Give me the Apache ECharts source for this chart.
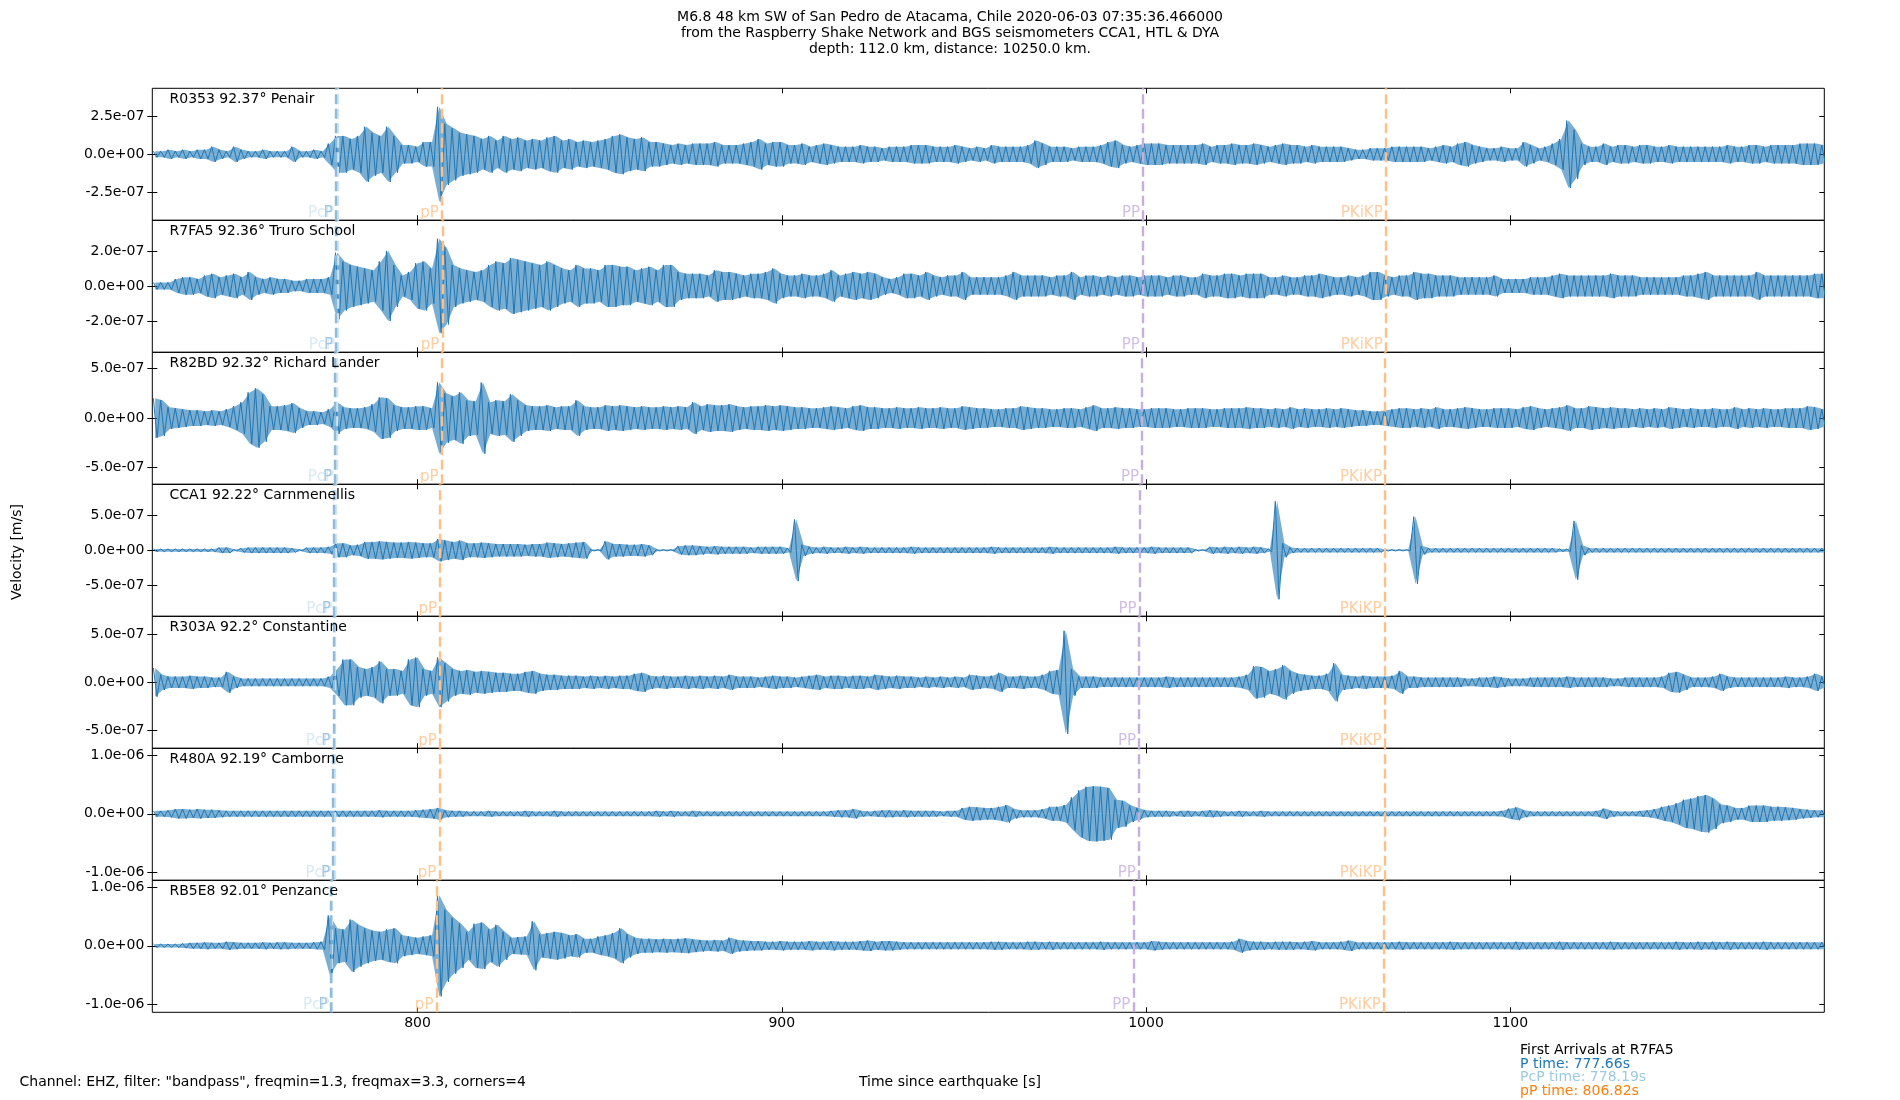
<!DOCTYPE html>
<html>
<head>
<meta charset="utf-8">
<title>M6.8 San Pedro de Atacama - Raspberry Shake / BGS</title>
<script src="https://cdn.jsdelivr.net/npm/echarts@6/dist/echarts.min.js"></script>
<style>
	html, body { margin: 0; padding: 0; background: #fff; }
	#seismo { width: 1900px; height: 1100px; }
</style>
</head>
<body>
<div id="seismo"></div>
<script>
'use strict';

/*--- data ---*/
var stationCodes = ['R0353', 'R7FA5', 'R82BD', 'CCA1', 'R303A', 'R480A', 'RB5E8'];
var stationDist = [92.37, 92.36, 92.32, 92.22, 92.2, 92.19, 92.01];
var stationNames = ['Penair', 'Truro School', 'Richard Lander', 'Carnmenellis', 'Constantine', 'Camborne', 'Penzance'];

// arrival times [s] per station
var pTimes = [777.5, 777.66, 777.4, 777.0, 776.9, 776.8, 776.1];
var pcpTimes = [778.0, 778.19, 777.9, 777.5, 777.4, 777.3, 776.6];
var ppTimes = [806.7, 806.82, 806.6, 806.2, 806.1, 806.0, 805.2];   // pP
var bigPPTimes = [999.2, 999.1, 998.9, 998.2, 998.1, 998.0, 996.5]; // PP
var pkikpTimes = [1065.8, 1065.8, 1065.6, 1065.5, 1065.5, 1065.5, 1065.3];

// waveform envelope: peak amplitude per 2 s bin (units of 1e-8 m/s), bins from 727 s
var binStart = 727;
var binWidth = 2;
var ampUnit = 1e-8;

var ampR0353 = [
	2,2,3,2,3,2,3,3,5,3, 2,5,3,2,2,3,2,2,2,5, 2,2,3,2,7,12,12,10,12,18,
	14,12,18,12,6,6,5,8,8,31, 20,17,14,13,12,10,12,9,12,10, 11,9,10,9,11,12,9,10,8,9,
	8,9,10,12,13,11,10,11,8,8, 7,6,7,6,7,7,7,8,6,6, 6,7,8,10,7,8,8,6,6,7,
	5,6,7,6,5,5,5,6,5,5, 4,5,5,5,6,6,6,5,5,5, 6,5,4,5,4,6,5,5,5,5,
	6,9,7,5,5,5,4,5,5,5, 6,8,9,6,5,6,7,7,7,6, 6,6,6,6,7,5,6,6,7,6,
	6,7,6,5,6,7,6,6,5,6, 5,5,5,5,4,3,3,4,4,4, 5,5,5,5,5,4,5,6,5,7,
	8,6,5,4,4,5,4,4,8,6, 4,5,7,10,22,16,7,5,5,7, 5,6,6,5,6,6,5,5,6,5,
	5,5,5,5,5,5,6,5,5,6, 6,5,6,6,6,6,7,7,7,6
];
var ampR7FA5 = [
	2,2,2,4,5,5,4,6,7,5, 6,7,5,8,5,4,5,4,4,3, 3,4,4,4,5,19,14,12,11,10,
	9,14,20,12,6,8,13,14,10,27, 22,12,10,9,8,9,12,14,13,16, 15,14,13,12,14,12,10,9,12,10,
	10,9,12,12,11,11,9,10,11,9, 12,12,8,7,7,7,
	6,9,8,8,7,6,7,7,8,10, 7,6,6,7,6,6,7,9,6,7, 8,7,8,7,5,4,5,7,7,6,
	8,6,5,6,6,8,5,5,5,5, 5,6,8,6,6,6,6,5,6,6, 8,5,6,6,5,6,5,6,6,5,
	6,6,6,5,6,6,5,5,7,6, 6,7,7,6,7,7,7,
	5,5,6,5,5,6,6,7,6,5, 5,6,5,6,8,8,6,5,6,6, 8,7,7,6,6,6,5,5,5,5,
	5,6,4,4,4,4,5,5,5,6, 7,6,6,6,6,6,6,7,6,6, 6,5,5,5,5,5,5,6,6,7,
	8,6,6,6,6,6,6,8,6,6, 6,6,6,6,6,7,7
];
var ampR82BD = [
	20,18,11,10,9,8,8,7,8,7, 9,12,16,26,30,24,12,12,13,15, 10,7,7,6,9,16,11,10,10,11,
	14,21,20,13,11,11,12,12,10,36, 25,22,26,18,17,36,16,18,17,24, 18,13,12,12,13,11,12,12,18,12,
	11,11,13,12,13,12,11,12,11,11, 12,11,12,11,16,12,
	14,13,13,14,12,11,12,12,13,12, 13,12,11,11,10,10,11,12,11,10, 12,13,11,11,10,10,11,10,10,11,
	10,10,11,10,10,12,11,10,10,9, 9,10,10,12,11,10,10,9,9,10, 10,9,11,13,10,10,11,10,10,9,
	9,10,10,10,9,9,10,10,10,9, 9,10,10,10,11,10,10,
	9,10,9,11,9,10,9,9,10,9, 10,9,8,8,7,7,8,9,10,10, 9,10,9,11,9,9,10,11,10,9,
	9,10,10,10,9,11,12,10,9,10, 11,13,10,10,12,11,10,11,10,10, 9,10,9,10,9,11,10,9,10,9,
	9,10,9,9,11,9,10,9,10,9, 9,10,10,10,12,11,9
];
var ampCCA1 = [
	2,2,2,2,2,2,2,2,2,4, 4,1,3,4,4,4,4,4,4,3, 1,4,4,4,5,10,10,7,8,12,
	12,13,12,11,11,12,11,10,10,16, 14,12,14,10,10,11,10,9,9,9, 9,8,9,9,11,10,9,10,11,12,
	1,1,13,9,9,8,8,9,7,1, 1,1,6,7,7,6,
	5,6,5,5,5,5,4,5,5,5, 5,3,44,8,5,4,5,4,4,5, 4,5,4,4,4,4,4,4,5,4,
	4,4,4,4,4,4,4,4,4,5, 4,4,4,4,4,4,4,5,4,4, 4,4,4,4,4,4,5,4,4,4,
	4,5,4,4,4,4,4,1,1,5, 4,5,4,5,4,5,4,
	2,70,10,4,3,3,3,3,3,3, 3,3,3,3,3,3,1,1,1,1, 48,6,3,3,3,3,3,3,3,3,
	3,3,3,3,3,3,3,3,3,3, 2,2,42,7,3,3,3,3,3,3, 3,3,3,3,3,3,3,3,3,3,
	3,3,3,3,3,3,3,3,3,3, 3,3,3,3,3,3,3
];
var ampR303A = [
	15,8,6,6,6,7,6,6,5,5, 11,6,4,4,4,4,4,4,4,4, 4,4,4,4,6,14,24,24,16,14,
	16,22,14,14,12,24,26,14,12,26, 20,14,12,13,11,12,11,10,10,9, 9,11,12,9,8,8,7,7,7,6,
	7,6,7,6,7,7,9,10,7,6, 7,6,6,7,6,7,
	6,7,6,8,6,6,6,5,6,7, 6,6,5,6,7,8,6,7,7,6, 7,7,6,8,7,6,7,6,6,5,
	6,5,6,5,6,5,8,7,6,7, 10,6,6,7,6,6,8,12,13,54, 14,6,6,6,5,5,5,5,5,5,
	5,5,5,6,5,5,5,5,5,5, 5,5,5,6,8,17,16,
	12,14,18,12,9,8,7,7,9,20, 8,7,6,7,6,6,6,7,12,6, 6,5,5,5,5,5,5,4,4,5,
	5,6,5,4,4,4,5,5,5,5, 5,6,5,5,5,5,5,4,4,5, 5,5,5,5,6,10,11,8,5,5,
	5,6,9,6,5,5,5,5,5,5, 5,6,5,5,6,9,6
];
var ampR480A = [
	5,5,6,8,8,7,8,7,7,6, 5,5,5,5,5,5,5,5,5,5, 5,5,5,5,5,5,5,5,5,5,
	5,6,5,5,5,5,6,7,8,10, 6,5,5,4,4,4,5,4,4,4, 4,5,4,4,4,5,4,4,4,4,
	4,4,4,4,4,4,4,4,4,5, 4,5,4,4,5,4,
	4,4,4,4,4,4,4,4,4,4, 4,4,4,4,4,4,4,5,6,6, 8,5,4,5,6,6,5,6,5,5,
	5,5,4,5,5,10,12,11,10,10, 12,15,8,6,6,6,8,12,12,15, 28,40,46,47,46,44,24,22,14,10,
	6,5,5,5,4,5,5,4,5,6, 5,4,4,5,4,4,5,
	4,4,4,4,4,4,4,4,4,4, 4,4,4,4,4,4,4,4,4,4, 4,4,4,4,4,4,4,4,4,4,
	4,4,5,9,11,6,4,4,4,4, 4,4,4,4,4,5,9,5,4,4, 4,5,6,8,12,14,18,24,26,30,
	32,26,16,14,10,10,14,14,14,12, 12,11,10,8,7,6,6
];
var ampRB5E8 = [
	3,3,3,3,4,5,5,6,5,5, 7,6,5,5,5,6,5,6,6,5, 5,5,6,7,52,30,28,45,36,30,
	26,24,28,30,18,16,14,16,18,87, 62,48,38,24,38,40,28,36,24,14, 15,16,42,20,22,24,22,18,20,12,
	12,16,18,22,30,20,14,12,12,11, 12,11,12,13,11,10,
	9,10,9,14,10,9,8,8,7,7, 8,7,7,7,8,7,7,8,7,7, 7,8,9,7,8,8,7,6,6,6,
	6,6,6,6,6,6,6,6,6,7, 7,6,6,6,7,7,6,7,6,6, 6,6,6,6,7,6,6,6,6,6,
	6,8,7,6,6,6,6,6,6,6, 6,6,7,12,8,7,7,
	6,7,7,7,6,7,8,6,6,6, 7,9,6,6,6,6,6,6,7,6, 6,6,6,6,6,7,6,6,6,6,
	6,6,6,6,7,6,6,6,6,6, 7,6,6,6,6,6,6,7,6,6, 6,6,6,6,6,6,7,6,6,7,
	6,7,6,7,6,6,6,6,7,6, 6,6,6,6,6,6,6
];
var amplitudes = [ampR0353, ampR7FA5, ampR82BD, ampCCA1, ampR303A, ampR480A, ampRB5E8];

// axis limits and tick labels
var xMin = 727.2;
var xMax = 1186.2;
var xTicks = [800, 900, 1000, 1100];
var yMin = [-4.31e-7, -3.79e-7, -6.69e-7, -9.43e-7, -6.91e-7, -1.131e-6, -1.143e-6];
var yMax = [4.31e-7, 3.75e-7, 6.65e-7, 9.43e-7, 6.92e-7, 1.114e-6, 1.125e-6];
var yTicks = [
	[-2.5e-7, 0, 2.5e-7],
	[-2e-7, 0, 2e-7],
	[-5e-7, 0, 5e-7],
	[-5e-7, 0, 5e-7],
	[-5e-7, 0, 5e-7],
	[-1e-6, 0, 1e-6],
	[-1e-6, 0, 1e-6]
];

var titleLines = [
	'M6.8 48 km SW of San Pedro de Atacama, Chile 2020-06-03 07:35:36.466000',
	'from the Raspberry Shake Network and BGS seismometers CCA1, HTL & DYA',
	'depth: 112.0 km, distance: 10250.0 km.'
];

/*--- styling ---*/
var FONT = 'DejaVu Sans';
var traceColor = '#1f77b4';
var phaseColors = {
	PcP: '#cfe4f1',
	P: '#8fbbda',
	pP: '#ffbf86',
	PP: '#c6aede',
	PKiKP: '#ffbf86'
};
var gridLeft = 152.3;
var gridWidth = 1672;
var gridTop = 88.3;
var panelH = 132;

function sciLabel(v) {
	if (Math.abs(v) < 1e-15) return '0.0e+00';
	var e = Math.floor(Math.log10(Math.abs(v)) + 1e-9);
	var m = v / Math.pow(10, e);
	var ae = Math.abs(e);
	return m.toFixed(1) + 'e' + (e < 0 ? '-' : '+') + (ae < 10 ? '0' : '') + ae;
}

// upper / lower envelope of each bin, placed at the bin centre
function envelope(amps, sign) {
	var d = [];
	for (var k = 0; k < amps.length; k++) {
		d.push([binStart + k * binWidth + binWidth / 2, sign * amps[k] * ampUnit]);
	}
	return d;
}

// max then min of each bin -> swing trace
function swing(amps) {
	var d = [];
	for (var k = 0; k < amps.length; k++) {
		var t = binStart + k * binWidth;
		d.push([t + 0.5, amps[k] * ampUnit]);
		d.push([t + 1.5, -amps[k] * ampUnit]);
	}
	return d;
}

var tickStyle = { color: '#000', width: 1 };
var grids = [], xAxes = [], yAxes = [], series = [], titles = [];

titles.push({
	text: titleLines.join('\n'),
	left: 'center',
	top: 9.5,
	padding: 0,
	textStyle: { fontFamily: FONT, fontSize: 14, fontWeight: 'normal', color: '#000', lineHeight: 16 }
});

function buildPanel(i) {
	var panelTop = gridTop + panelH * i;
	grids.push({
		left: gridLeft, width: gridWidth, top: panelTop, height: panelH,
		show: true, borderColor: '#000', borderWidth: 1, backgroundColor: 'rgba(0,0,0,0)'
	});

	// bottom x axis (labels only on the last panel) and top x axis
	xAxes.push({
		type: 'value', gridIndex: i, position: 'bottom', min: xMin, max: xMax,
		axisLine: { show: false, onZero: false }, splitLine: { show: false },
		axisTick: { show: true, inside: true, length: 5, customValues: xTicks, lineStyle: tickStyle },
		axisLabel: {
			show: i === stationCodes.length - 1, customValues: xTicks, margin: 4,
			formatter: function(v) { return String(v); },
			fontFamily: FONT, fontSize: 14, color: '#000'
		}
	});
	xAxes.push({
		type: 'value', gridIndex: i, position: 'top', min: xMin, max: xMax,
		axisLine: { show: false, onZero: false }, splitLine: { show: false },
		axisTick: { show: true, inside: true, length: 5, customValues: xTicks, lineStyle: tickStyle },
		axisLabel: { show: false }
	});

	// left axis with labels + outward ticks, left inward ticks, right inward ticks
	yAxes.push({
		type: 'value', gridIndex: i, position: 'left', min: yMin[i], max: yMax[i],
		axisLine: { show: false, onZero: false }, splitLine: { show: false },
		axisTick: { show: true, inside: false, length: 5, customValues: yTicks[i], lineStyle: tickStyle },
		axisLabel: {
			customValues: yTicks[i], margin: 8, formatter: sciLabel,
			fontFamily: FONT, fontSize: 14, color: '#000'
		}
	});
	yAxes.push({
		type: 'value', gridIndex: i, position: 'left', min: yMin[i], max: yMax[i],
		axisLine: { show: false, onZero: false }, splitLine: { show: false },
		axisTick: { show: true, inside: true, length: 5, customValues: yTicks[i], lineStyle: tickStyle },
		axisLabel: { show: false }
	});
	yAxes.push({
		type: 'value', gridIndex: i, position: 'right', min: yMin[i], max: yMax[i],
		axisLine: { show: false, onZero: false }, splitLine: { show: false },
		axisTick: { show: true, inside: true, length: 5, customValues: yTicks[i], lineStyle: tickStyle },
		axisLabel: { show: false }
	});

	var phases = [
		['PcP', pcpTimes[i]],
		['P', pTimes[i]],
		['pP', ppTimes[i]],
		['PP', bigPPTimes[i]],
		['PKiKP', pkikpTimes[i]]
	];
	var lines = [], marks = [];
	phases.forEach(function(ph) {
		lines.push({
			xAxis: ph[1],
			lineStyle: { color: phaseColors[ph[0]], type: [10, 4.5], width: 2.4, opacity: 1 }
		});
		marks.push({
			name: ph[0],
			value: [ph[1], yMin[i]],
			label: { color: phaseColors[ph[0]] }
		});
	});

	// envelope band
	[1, -1].forEach(function(sign) {
		series.push({
			name: stationCodes[i] + (sign > 0 ? ' max' : ' min'),
			type: 'line',
			xAxisIndex: 2 * i,
			yAxisIndex: 3 * i,
			data: envelope(amplitudes[i], sign),
			showSymbol: false,
			symbol: 'none',
			lineStyle: { width: 0 },
			areaStyle: { color: traceColor, opacity: 0.6, origin: 0 },
			silent: true,
			z: 1
		});
	});
	// swing line on top
	series.push({
		name: stationCodes[i],
		type: 'line',
		xAxisIndex: 2 * i,
		yAxisIndex: 3 * i,
		data: swing(amplitudes[i]),
		showSymbol: false,
		symbol: 'none',
		lineStyle: { color: traceColor, width: 1 },
		itemStyle: { color: traceColor },
		silent: true,
		z: 2,
		markLine: {
			silent: true,
			symbol: ['none', 'none'],
			label: { show: false },
			data: lines,
			animation: false
		}
	});
	series.push({
		name: stationCodes[i] + ' phases',
		type: 'scatter',
		xAxisIndex: 2 * i,
		yAxisIndex: 3 * i,
		symbolSize: 0,
		clip: false,
		silent: true,
		z: 4,
		data: marks,
		label: {
			show: true,
			position: 'left',
			distance: 3,
			offset: [0, -7],
			formatter: function(p) { return p.name; },
			fontFamily: FONT,
			fontSize: 15
		}
	});

	titles.push({
		text: stationCodes[i] + ' ' + stationDist[i] + '\u00b0 ' + stationNames[i],
		left: 169.5,
		top: panelTop + 3,
		padding: 0,
		textStyle: { fontFamily: FONT, fontSize: 14, fontWeight: 'normal', color: '#000', lineHeight: 16 }
	});
}

for (var i = 0; i < stationCodes.length; i++) {
	buildPanel(i);
}

// footer texts
titles.push({
	text: 'Channel: EHZ, filter: "bandpass", freqmin=1.3, freqmax=3.3, corners=4',
	left: 19.5, top: 1074, padding: 0,
	textStyle: { fontFamily: FONT, fontSize: 14, fontWeight: 'normal', color: '#000', lineHeight: 16 }
});
titles.push({
	text: 'Time since earthquake [s]',
	left: 'center', top: 1074, padding: 0,
	textStyle: { fontFamily: FONT, fontSize: 14, fontWeight: 'normal', color: '#000', lineHeight: 16 }
});
var arrivalLines = [
	['First Arrivals at R7FA5', '#000000'],
	['P time: 777.66s', '#1f77b4'],
	['PcP time: 778.19s', '#9ecae1'],
	['pP time: 806.82s', '#ff7f0e']
];
var arrivalTops = [1043, 1057, 1070.5, 1084.5];
arrivalLines.forEach(function(a, j) {
	titles.push({
		text: a[0], left: 1520, top: arrivalTops[j], padding: 0,
		textStyle: { fontFamily: FONT, fontSize: 14, fontWeight: 'normal', color: a[1], lineHeight: 14 }
	});
});

var seismoChart = echarts.init(document.getElementById('seismo'), null, { renderer: 'canvas' });
var seismoOption = {
	backgroundColor: '#ffffff',
	animation: false,
	title: titles,
	grid: grids,
	xAxis: xAxes,
	yAxis: yAxes,
	series: series,
	graphic: [{
		type: 'text',
		x: 17, y: 552,
		rotation: Math.PI / 2,
		style: {
			text: 'Velocity [m/s]',
			font: '14px "DejaVu Sans"',
			fill: '#000',
			textAlign: 'center',
			textVerticalAlign: 'middle'
		}
	}]
};
seismoChart.setOption(seismoOption);
window.addEventListener('resize', function() {
	seismoChart.resize();
});
</script>
</body>
</html>
